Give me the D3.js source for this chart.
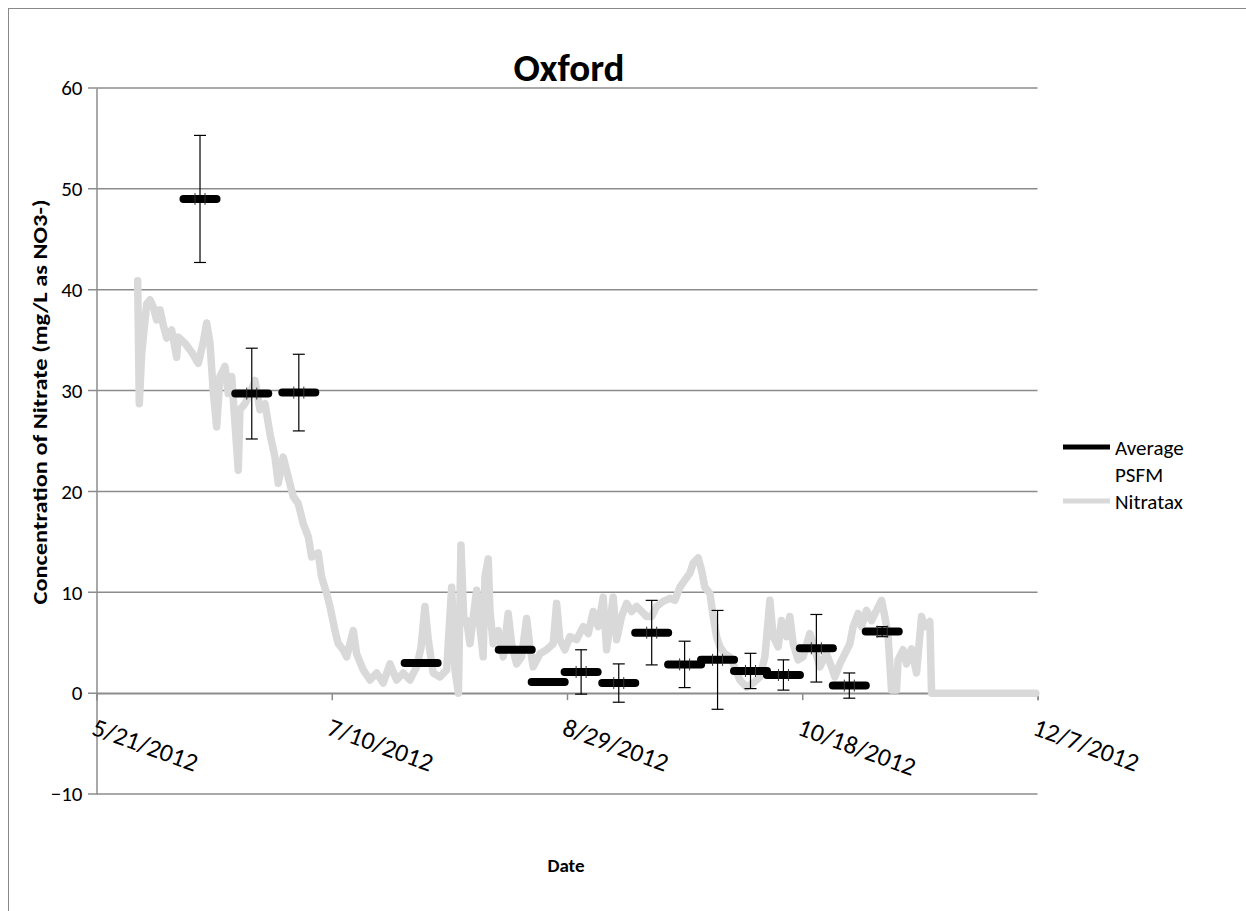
<!DOCTYPE html>
<html>
<head>
<meta charset="utf-8">
<script src="https://cdn.jsdelivr.net/npm/d3@7"></script>
<style>
  body { margin: 0; background: #fff; }
  text { font-family: Carlito, Calibri, Lato, "Open Sans", sans-serif; fill: #000; }
</style>
</head>
<body>
<div id="chart"></div>
<script>
// Average PSFM samples (deployment centre date, mean, standard deviation)
var psfmDates = ["2012-06-12", "2012-06-23", "2012-07-03", "2012-07-29", "2012-08-18", "2012-08-25",
  "2012-09-01", "2012-09-09", "2012-09-16", "2012-09-23", "2012-09-30", "2012-10-07",
  "2012-10-14", "2012-10-21", "2012-10-28", "2012-11-04"];
var psfmValues = [49.0, 29.7, 29.8, 3.0, 4.3, 1.1, 2.1, 1.0, 6.0, 2.85, 3.3, 2.2, 1.8, 4.45, 0.75, 6.1];
var psfmErrors = [6.3, 4.5, 3.8, null, null, null, 2.2, 1.9, 3.2, 2.3, 4.9, 1.75, 1.5, 3.35, 1.25, 0.5];

// Nitratax probe record (days after 5/21/2012, mg/L as NO3-)
var nitrataxDays = [8.75, 9.10, 9.60, 10.67, 11.37, 12.07, 12.79, 13.49, 14.19, 14.92, 15.98, 17.04, 17.38,
  18.81, 20.23, 21.63, 22.69, 23.42, 24.12, 24.82, 25.54, 26.24, 27.31, 28.01, 28.73, 30.13, 30.49,
  31.56, 32.62, 33.68, 34.74, 35.81, 36.87, 37.93, 38.63, 39.69, 40.76, 41.82, 42.88, 43.94, 45.01,
  45.73, 47.13, 47.85, 48.92, 49.62, 50.68, 51.38, 52.44, 53.17, 54.57, 55.29, 56.69, 58.12, 59.54,
  60.94, 62.37, 63.79, 65.19, 66.62, 68.04, 68.96, 69.81, 70.51, 71.57, 72.99, 74.42, 75.48, 76.18,
  76.92, 77.46, 78.09, 78.67, 79.37, 80.79, 81.49, 82.19, 82.56, 83.26, 83.62, 84.32, 85.38, 86.44,
  87.50, 88.23, 89.29, 90.35, 91.42, 92.12, 92.82, 94.24, 95.66, 97.07, 97.79, 98.49, 99.55, 100.62,
  102.04, 103.44, 104.51, 105.57, 106.63, 107.69, 108.42, 109.82, 110.54, 111.60, 112.67, 113.73,
  114.79, 115.85, 116.92, 117.98, 119.04, 120.44, 121.87, 122.93, 123.99, 125.05, 126.12, 126.82,
  127.88, 128.60, 129.30, 130.37, 131.07, 131.79, 132.49, 133.55, 134.61, 135.32, 136.74, 138.16,
  139.57, 140.99, 142.06, 143.12, 143.82, 144.88, 145.60, 146.66, 147.36, 148.07, 149.13, 150.19,
  151.61, 152.68, 153.74, 155.16, 156.22, 156.93, 157.99, 159.05, 160.12, 160.82, 161.88, 162.60,
  163.66, 164.73, 165.79, 166.85, 167.55, 168.25, 168.97, 170.04, 170.38, 171.44, 172.17, 173.23,
  174.29, 175.35, 176.05, 177.12, 177.48, 199.64];
var nitrataxValues = [40.9, 28.7, 33.7, 38.6, 39.0, 38.3, 37.0, 38.0, 36.5, 35.2, 36.0, 33.3, 35.3,
  34.7, 33.8, 32.7, 34.8, 36.7, 34.7, 29.9, 26.4, 31.4, 32.4, 29.7, 31.4, 22.1, 28.1,
  28.7, 29.7, 31.0, 28.1, 28.7, 25.7, 23.4, 20.8, 23.4, 21.4, 19.5, 18.8, 16.8, 15.5,
  13.5, 13.9, 11.5, 9.9, 8.6, 6.2, 4.9, 4.3, 3.6, 6.2, 3.9, 2.3, 1.3, 2.0,
  1.0, 2.9, 1.3, 2.0, 1.3, 2.6, 4.5, 8.6, 5.3, 2.0, 1.6, 2.3, 10.5, 2.3,
  0.0, 14.7, 7.0, 7.2, 4.9, 10.2, 6.6, 3.6, 11.5, 13.3, 8.2, 4.9, 6.2, 3.6,
  7.9, 4.9, 2.9, 3.6, 7.4, 4.6, 2.6, 3.9, 4.3, 4.9, 8.9, 5.3, 4.3, 5.6,
  5.3, 6.6, 5.9, 8.1, 6.6, 9.5, 4.3, 9.5, 5.3, 7.6, 8.9, 8.1,
  8.6, 8.1, 7.6, 7.6, 8.6, 9.1, 9.4, 9.2, 10.5, 11.2, 11.9, 12.9,
  13.4, 12.2, 10.5, 9.9, 7.6, 5.6, 4.6, 3.9, 3.6, 2.9, 1.3, 0.6,
  1.0, 1.6, 3.6, 9.2, 5.6, 4.6, 7.2, 5.6, 7.6, 4.9, 3.3, 3.6,
  5.9, 4.3, 2.6, 3.9, 2.6, 1.6, 2.9, 3.9, 4.9, 6.6, 7.9, 6.6,
  8.2, 7.2, 8.2, 9.2, 7.6, 5.6, 0.3, 0.3, 3.3, 4.3, 2.9, 4.4,
  2.0, 7.6, 6.6, 7.1, 0.0, 0.0];

var xTickDates = ["2012-05-21", "2012-07-10", "2012-08-29", "2012-10-18", "2012-12-07"];
var yTicks = [-10, 0, 10, 20, 30, 40, 50, 60];

var svgWidth = 1246;
var svgHeight = 911;
var parseDate = d3.timeParse("%Y-%m-%d");
var formatTick = function(d) { return (d.getMonth() + 1) + "/" + d.getDate() + "/" + d.getFullYear(); };
var startDate = parseDate("2012-05-21");

var svg = d3.select("#chart").append("svg")
  .attr("width", svgWidth)
  .attr("height", svgHeight);

// outer chart border
svg.append("rect")
  .attr("x", 8.5).attr("y", 8.5)
  .attr("width", 1250).attr("height", 920)
  .attr("fill", "none").attr("stroke", "#888").attr("stroke-width", 1);

var xScale = d3.scaleTime()
  .domain([parseDate("2012-05-21"), parseDate("2012-12-07")])
  .range([96.5, 1037.5]);

var yScale = d3.scaleLinear()
  .domain([-10, 60])
  .range([794, 88]);

// gridlines
svg.append("g")
  .selectAll("line")
  .data(yTicks)
  .enter()
  .append("line")
  .attr("x1", 88).attr("x2", 1037.5)
  .attr("y1", d => yScale(d)).attr("y2", d => yScale(d))
  .attr("stroke", "#8c8c8c").attr("stroke-width", 1.5);

// y axis
var leftAxis = d3.axisLeft(yScale).tickValues(yTicks).tickSize(0).tickPadding(14);
var yAxisG = svg.append("g")
  .attr("transform", "translate(96.5,0)")
  .call(leftAxis);
yAxisG.select(".domain").attr("stroke", "#8c8c8c").attr("stroke-width", 1.5);
yAxisG.selectAll("text")
  .style("font-size", "21px")
  .style("font-family", "Carlito, Calibri, Lato, sans-serif");

// x axis at zero
var bottomAxis = d3.axisBottom(xScale)
  .tickValues(xTickDates.map(parseDate))
  .tickSize(7)
  .tickFormat("");
var xAxisG = svg.append("g")
  .attr("transform", `translate(0, ${yScale(0)})`)
  .call(bottomAxis);
xAxisG.select(".domain").attr("stroke", "#8c8c8c").attr("stroke-width", 1.5);
xAxisG.selectAll(".tick line").attr("stroke", "#8c8c8c").attr("stroke-width", 1.5);

svg.append("g")
  .selectAll("text")
  .data(xTickDates.map(parseDate))
  .enter()
  .append("text")
  .attr("transform", d => `translate(${xScale(d) - 6}, ${yScale(0) + 41}) rotate(20)`)
  .style("font-size", "25.5px")
  .text(d => formatTick(d));

// Nitratax line
var nitData = nitrataxDays.map(function(d, i) {
  return { date: new Date(startDate.getTime() + d * 86400000), value: nitrataxValues[i] };
});
var line = d3.line()
  .x(d => xScale(d.date))
  .y(d => yScale(d.value));

svg.append("path")
  .datum(nitData)
  .attr("d", line)
  .attr("fill", "none")
  .attr("stroke", "#d9d9d9")
  .attr("stroke-width", 7.5)
  .attr("stroke-linejoin", "round")
  .attr("stroke-linecap", "round");

// PSFM markers
var psfm = psfmDates.map(function(d, i) {
  return { date: parseDate(d), value: psfmValues[i], err: psfmErrors[i] };
});

var errGroup = svg.append("g").attr("stroke", "#000").attr("stroke-width", 1.2);
psfm.filter(d => d.err !== null).forEach(function(d) {
  var cx = xScale(d.date);
  errGroup.append("line")
    .attr("x1", cx).attr("x2", cx)
    .attr("y1", yScale(d.value + d.err)).attr("y2", yScale(d.value - d.err));
  [d.value + d.err, d.value - d.err].forEach(function(v) {
    errGroup.append("line")
      .attr("x1", cx - 6).attr("x2", cx + 6)
      .attr("y1", yScale(v)).attr("y2", yScale(v));
  });
});

svg.append("g")
  .selectAll("line")
  .data(psfm)
  .enter()
  .append("line")
  .attr("x1", d => xScale(d.date) - 16.5)
  .attr("x2", d => xScale(d.date) + 16.5)
  .attr("y1", d => yScale(d.value))
  .attr("y2", d => yScale(d.value))
  .attr("stroke", "#000")
  .attr("stroke-width", 8)
  .attr("stroke-linecap", "round");

// small horizontal error caps poking out of the markers
var capGroup = svg.append("g").attr("stroke", "#333").attr("stroke-width", 1);
psfm.filter(d => d.err !== null).forEach(function(d) {
  var cx = xScale(d.date);
  [-5, 5].forEach(function(off) {
    capGroup.append("line")
      .attr("x1", cx + off).attr("x2", cx + off)
      .attr("y1", yScale(d.value) - 6).attr("y2", yScale(d.value) + 6);
  });
});

// title
svg.append("text")
  .attr("x", 569)
  .attr("y", 81)
  .attr("text-anchor", "middle")
  .style("font-size", "39px")
  .style("font-weight", "bold")
  .text("Oxford");

// axis titles
svg.append("text")
  .attr("transform", "rotate(-90)")
  .attr("x", -402)
  .attr("y", 47)
  .attr("text-anchor", "middle")
  .attr("textLength", 405)
  .attr("lengthAdjust", "spacingAndGlyphs")
  .style("font-size", "20px")
  .style("font-weight", "bold")
  .text("Concentration of Nitrate (mg/L as NO3-)");

svg.append("text")
  .attr("x", 566)
  .attr("y", 872)
  .attr("text-anchor", "middle")
  .style("font-size", "19px")
  .style("font-weight", "bold")
  .text("Date");

// legend
var legend = svg.append("g");
legend.append("line")
  .attr("x1", 1063).attr("x2", 1110).attr("y1", 447).attr("y2", 447)
  .attr("stroke", "#000").attr("stroke-width", 5);
legend.append("text").attr("x", 1115).attr("y", 455).style("font-size", "21px").text("Average");
legend.append("text").attr("x", 1115).attr("y", 482).style("font-size", "21px").text("PSFM");
legend.append("line")
  .attr("x1", 1063).attr("x2", 1110).attr("y1", 501).attr("y2", 501)
  .attr("stroke", "#d9d9d9").attr("stroke-width", 5);
legend.append("text").attr("x", 1115).attr("y", 509).style("font-size", "21px").text("Nitratax");
</script>
</body>
</html>
